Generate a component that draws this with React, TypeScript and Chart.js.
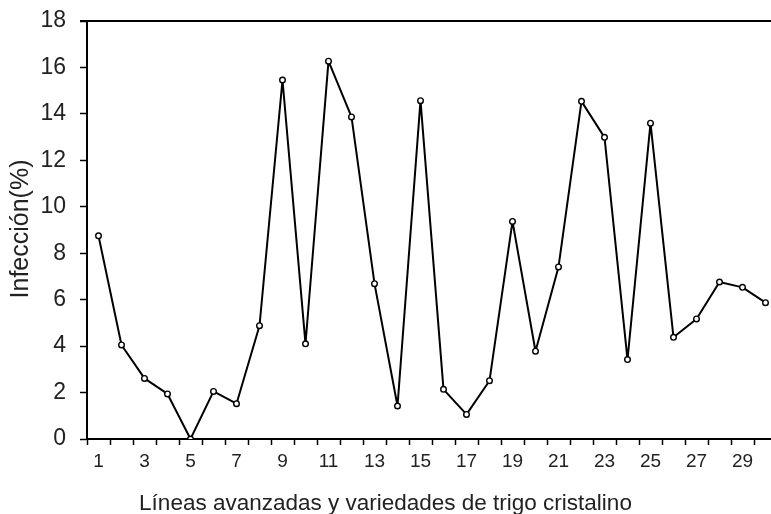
import React, { useEffect, useRef } from "react";
import { Chart, registerables } from "chart.js";

Chart.register(...registerables);

const categories: string[] = Array.from({ length: 30 }, (_, i) => String(i + 1));
const infeccion: number[] = [
  8.75, 4.05, 2.61, 1.94, 0.0, 2.05, 1.52, 4.88, 15.46, 4.1,
  16.27, 13.87, 6.69, 1.42, 14.57, 2.14, 1.06, 2.51, 9.37, 3.78,
  7.41, 14.54, 12.99, 3.42, 13.6, 4.38, 5.17, 6.76, 6.53, 5.87,
];
const yTitle = "Infección(%)";
const xTitle = "Líneas avanzadas y variedades de trigo cristalino";

const FONT = "'Liberation Sans', Arial, sans-serif";

const framePlugin = {
  id: "frame",
  afterDraw(chart: any) {
    const { ctx, chartArea } = chart;
    ctx.save();
    ctx.strokeStyle = "#000";
    ctx.lineWidth = 2;
    ctx.beginPath();
    ctx.moveTo(chartArea.left - 7, chartArea.top);
    ctx.lineTo(chartArea.right, chartArea.top);
    ctx.stroke();
    ctx.fillStyle = "#222";
    ctx.font = `22.5px ${FONT}`;
    ctx.textAlign = "center";
    ctx.textBaseline = "alphabetic";
    ctx.fillText(xTitle, 385.5, 510);
    ctx.translate(27.5, 229);
    ctx.rotate(-Math.PI / 2);
    ctx.font = `25px ${FONT}`;
    ctx.fillText(yTitle, 0, 0);
    ctx.restore();
  },
};

export default function App() {
  const ref = useRef<HTMLCanvasElement>(null);
  useEffect(() => {
    if (!ref.current) return;
    const chart = new Chart(ref.current, {
      type: "line",
      data: {
        labels: categories,
        datasets: [
          {
            data: infeccion,
            borderColor: "#000",
            borderWidth: 2,
            borderJoinStyle: "round",
            pointStyle: "circle",
            pointRadius: 2.8,
            pointBackgroundColor: "#fff",
            pointBorderColor: "#000",
            pointBorderWidth: 1.4,
            tension: 0,
          },
        ],
      },
      options: {
        responsive: false,
        animation: false,
        layout: { padding: { top: 21, right: 13, bottom: 0, left: 0 } },
        plugins: { legend: { display: false }, tooltip: { enabled: false } },
        scales: {
          x: {
            type: "category",
            offset: true,
            afterFit: (s: any) => {
              s.height = 75;
              s.paddingLeft = 0;
              s.paddingRight = 0;
            },
            border: { color: "#000", width: 2 },
            grid: {
              offset: true,
              drawOnChartArea: false,
              drawTicks: true,
              tickLength: 6,
              tickWidth: 1.5,
              tickColor: "#000",
            },
            ticks: {
              autoSkip: false,
              maxRotation: 0,
              padding: 5,
              color: "#222",
              font: { family: FONT, size: 19 },
              callback: (_v: any, i: number) => (i % 2 === 0 ? categories[i] : ""),
            },
          },
          y: {
            min: 0,
            max: 18,
            afterFit: (s: any) => {
              s.width = 87;
              s.paddingTop = 0;
              s.paddingBottom = 0;
            },
            border: { color: "#000", width: 2 },
            grid: {
              drawOnChartArea: false,
              drawTicks: true,
              tickLength: 7,
              tickWidth: 1.5,
              tickColor: "#000",
            },
            ticks: {
              stepSize: 2,
              padding: 14,
              color: "#222",
              font: { family: FONT, size: 23 },
            },
          },
        },
      },
      plugins: [framePlugin],
    });
    return () => chart.destroy();
  }, []);
  return (
    <div
      style={{
        position: "fixed",
        left: 0,
        top: 0,
        width: 771,
        height: 514,
        overflow: "hidden",
        background: "#fff",
      }}
    >
      <canvas ref={ref} width={790} height={514} style={{ display: "block" }} />
    </div>
  );
}
